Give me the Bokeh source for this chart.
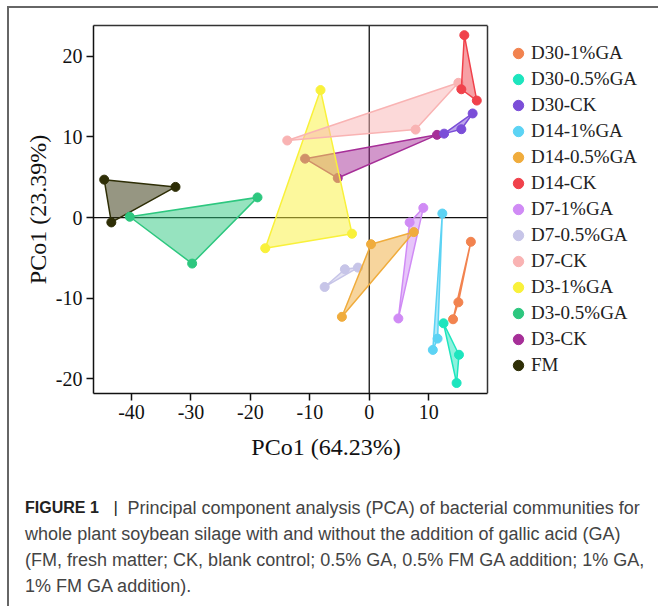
from bokeh.plotting import figure
from bokeh.layouts import column
from bokeh.models import (Range1d, FixedTicker, Span, Label, Legend, LegendItem,
                          LinearAxis)
from bokeh.embed import file_html
from bokeh.resources import INLINE

# ---------------- data ----------------
groups = ["D30-1%GA", "D30-0.5%GA", "D30-CK", "D14-1%GA", "D14-0.5%GA", "D14-CK",
          "D7-1%GA", "D7-0.5%GA", "D7-CK", "D3-1%GA", "D3-0.5%GA", "D3-CK", "FM"]
colors = ["#F2834F", "#1DE5BE", "#7B4ED8", "#5CD3F4", "#F0AC3C", "#F0414B",
          "#D08BF5", "#C7C5E8", "#F9B3B3", "#F9F13A", "#2DC77F", "#A62F98", "#2E2E06"]

pc1 = {
    "D30-1%GA":   [17.1, 15.0, 14.1],
    "D30-0.5%GA": [12.5, 15.1, 14.7],
    "D30-CK":     [12.6, 15.5, 17.4],
    "D14-1%GA":   [12.3, 11.5, 10.7],
    "D14-0.5%GA": [0.3, 7.5, -4.6],
    "D14-CK":     [16.0, 15.5, 18.1],
    "D7-1%GA":    [9.1, 6.8, 4.9],
    "D7-0.5%GA":  [-7.5, -4.1, -1.9],
    "D7-CK":      [-13.8, 7.8, 15.0],
    "D3-1%GA":    [-8.2, -17.5, -2.9],
    "D3-0.5%GA":  [-40.3, -18.8, -29.8],
    "D3-CK":      [-10.8, -5.3, 11.4],
    "FM":         [-44.6, -32.6, -43.4],
}
pc2 = {
    "D30-1%GA":   [-3.0, -10.5, -12.6],
    "D30-0.5%GA": [-13.1, -17.0, -20.5],
    "D30-CK":     [10.4, 10.95, 12.9],
    "D14-1%GA":   [0.5, -15.0, -16.4],
    "D14-0.5%GA": [-3.3, -1.8, -12.3],
    "D14-CK":     [22.6, 15.9, 14.5],
    "D7-1%GA":    [1.2, -0.6, -12.5],
    "D7-0.5%GA":  [-8.6, -6.4, -6.2],
    "D7-CK":      [9.55, 10.9, 16.7],
    "D3-1%GA":    [15.8, -3.8, -2.0],
    "D3-0.5%GA":  [0.1, 2.5, -5.7],
    "D3-CK":      [7.3, 4.9, 10.25],
    "FM":         [4.7, 3.8, -0.6],
}

x_ticks = [-40, -30, -20, -10, 0, 10]
y_ticks = [-20, -10, 0, 10, 20]
x_lo, x_hi = -46.4, 19.9          # visible plot box
y_lo, y_hi = -21.8, 23.8
x_title = "PCo1 (64.23%)"
y_title = "PCo1 (23.39%)"
caption_bold = "FIGURE 1"
caption_lines = [
    "Principal component analysis (PCA) of bacterial communities for",
    "whole plant soybean silage with and without the addition of gallic acid (GA)",
    "(FM, fresh matter; CK, blank control; 0.5% GA, 0.5% FM GA addition; 1% GA,",
    "1% FM GA addition).",
]

# ---------------- main plot ----------------
# the frame extends to the right edge so that the legend can sit beside the plot box
box_px, frame_px = 394, 567
x_frame_hi = x_lo + frame_px * (x_hi - x_lo) / box_px

p = figure(width=651, height=425, output_backend="svg", toolbar_location=None,
           x_range=Range1d(x_lo, x_frame_hi), y_range=Range1d(y_lo, y_hi),
           min_border_left=84, min_border_right=0, min_border_top=17, min_border_bottom=40)
p.margin = (6, 0, 0, 7)
p.styles = {"border-top": "2px solid #666", "border-left": "2px solid #666"}
p.background_fill_color = "white"
p.border_fill_color = "white"
p.outline_line_color = None
p.grid.visible = False

p.xaxis.ticker = FixedTicker(ticks=x_ticks)
p.yaxis.ticker = FixedTicker(ticks=y_ticks)
p.xaxis.bounds = (x_lo, x_hi)
p.xaxis.major_label_overrides = {t: str(t) for t in x_ticks}
p.yaxis.major_label_overrides = {t: str(t) for t in y_ticks}
for ax in (p.xaxis, p.yaxis):
    ax.major_label_text_font = "Liberation Serif"
    ax.major_label_text_font_size = "20px"
    ax.major_label_text_color = "#111"
    ax.axis_line_color = "#111"
    ax.axis_line_width = 1.5
    ax.major_tick_line_color = "#111"
    ax.major_tick_line_width = 1.5
    ax.major_tick_out = 7
    ax.major_tick_in = 0
    ax.minor_tick_line_color = None
    ax.major_label_standoff = 4

p.yaxis.axis_label = y_title
p.yaxis.axis_label_text_font = "Liberation Serif"
p.yaxis.axis_label_text_font_size = "24px"
p.yaxis.axis_label_text_font_style = "normal"
p.yaxis.axis_label_text_color = "#111"
p.yaxis.axis_label_standoff = 2

# top edge of the plot box
top_axis = LinearAxis(ticker=FixedTicker(ticks=[]), bounds=(x_lo, x_hi),
                      axis_line_color="#333", axis_line_width=1.5,
                      major_tick_line_color=None, minor_tick_line_color=None,
                      major_label_text_font_size="0px")
p.add_layout(top_axis, "above")
# right edge of the plot box
p.add_layout(Span(location=x_hi, dimension="height", line_color="#333", line_width=1.5))

# zero lines (the horizontal one is limited to the plot box)
p.segment(x0=x_lo, y0=0, x1=x_hi, y1=0, line_color="#111", line_width=1.3, level="underlay")
p.add_layout(Span(location=0, dimension="height", line_color="#111", line_width=1.3, level="underlay"))

renderers = {}
for g, col in reversed(list(zip(groups, colors))):
    p.patch(pc1[g], pc2[g], fill_color=col, fill_alpha=0.5, line_color=col, line_width=1.5)
    renderers[g] = p.scatter(pc1[g], pc2[g], size=9, fill_color=col, line_color=col)

items = [LegendItem(label=g, renderers=[renderers[g]]) for g in groups]
legend = Legend(items=items, location=(412, 15), orientation="vertical",
                padding=16, spacing=0, margin=0,
                glyph_width=26, glyph_height=26, label_height=26, label_standoff=0,
                label_text_font="Liberation Serif", label_text_font_size="19px",
                label_text_color="#222", border_line_color=None,
                background_fill_alpha=0)
p.add_layout(legend)

if "frame_align" in p.properties():
    p.frame_align = False

# ---------------- caption area ----------------
c = figure(width=651, height=175, output_backend="svg", toolbar_location=None,
           x_range=Range1d(0, 651), y_range=Range1d(175, 0),
           x_axis_location=None, y_axis_location=None,
           min_border_left=0, min_border_right=0, min_border_top=0, min_border_bottom=0)
if "frame_align" in c.properties():
    c.frame_align = False
c.margin = (0, 0, 0, 7)
c.styles = {"border-left": "2px solid #666"}
c.grid.visible = False
c.outline_line_color = None
c.background_fill_color = "white"
c.border_fill_color = "white"

def lab(text, x, y, **kw):
    c.add_layout(Label(x=x, y=y, text=text, text_baseline="middle", **kw))

lab(x_title, 316.5, 15, text_align="center", text_font="Liberation Serif",
    text_font_size="24px", text_color="#111")
cap_y = [76, 102.5, 128.5, 154.5]
cap_x = 15.6
lab(caption_bold, cap_x, cap_y[0], text_align="left", text_font="Liberation Sans",
    text_font_size="16px", text_font_style="bold", text_color="#222")
lab("|", 104, cap_y[0], text_align="left", text_font="Liberation Sans",
    text_font_size="17px", text_color="#222")
lab(caption_lines[0], 118, cap_y[0], text_align="left", text_font="Liberation Sans",
    text_font_size="18px", text_color="#444")
for line, yy in zip(caption_lines[1:], cap_y[1:]):
    lab(line, cap_x, yy, text_align="left", text_font="Liberation Sans",
        text_font_size="18px", text_color="#444")

layout = column(p, c, spacing=0)

open("out.html", "w").write(file_html(layout, INLINE))
